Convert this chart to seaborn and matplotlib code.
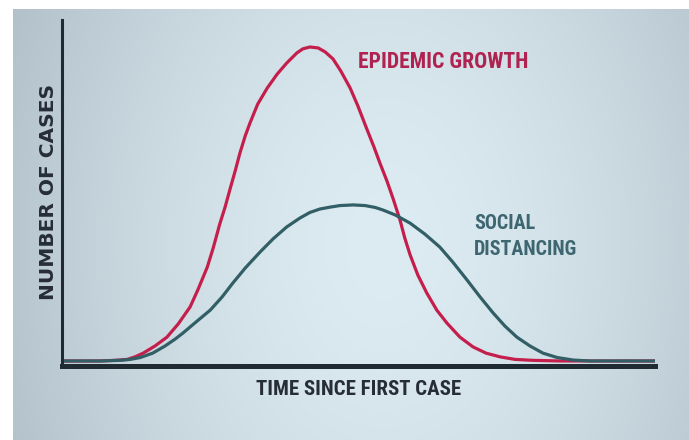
import numpy as np
import pandas as pd
import matplotlib
matplotlib.use("Agg")
import matplotlib.pyplot as plt
import seaborn as sns

# values (time since first case, number of cases)
epidemic_time = [0, 6.4, 8.9, 11.0, 12.3, 13.7, 15.7, 17.7, 19.6, 21.6,
                 22.9, 24.5, 25.5, 26.6, 27.5, 28.3, 29.2, 30.0, 30.9, 31.7,
                 33.0, 34.6, 36.3, 37.9, 39.6, 40.6, 41.8, 43.2, 44.4, 45.7,
                 47.0, 48.6, 49.9, 51.4, 52.6, 53.6, 54.8, 55.8, 57.0, 57.8,
                 58.7, 60.0, 61.5, 63.2, 64.9, 67.1, 69.3, 71.5, 73.9, 76.4,
                 79.4, 84.0, 100]
epidemic_cases = [0, 0, 0.2, 0.5, 1.3, 2.5, 4.8, 7.6, 11.8, 17.2,
                  22.6, 29.9, 36.0, 43.6, 49.0, 54.5, 60.5, 66.2, 71.7, 75.8,
                  81.8, 86.9, 91.4, 94.9, 98.1, 99.4, 100, 99.7, 98.4, 96.2,
                  92.4, 86.9, 81.2, 73.9, 68.2, 63.1, 57.3, 51.9, 44.9, 39.2,
                  33.8, 27.4, 21.7, 16.2, 12.1, 7.6, 4.5, 2.5, 1.3, 0.5,
                  0.2, 0, 0]

distancing_time = [0, 6.4, 9.8, 11.5, 13.2, 15.3, 17.4, 19.1, 20.4, 22.4,
                   25.0, 27.0, 28.8, 30.9, 33.4, 35.6, 37.9, 40.1, 41.8, 43.5,
                   45.2, 46.9, 49.1, 51.1, 52.8, 54.1, 56.2, 58.7, 61.2, 63.7,
                   65.9, 68.3, 70.5, 72.7, 74.7, 76.7, 78.9, 81.1, 83.5, 86.2,
                   89.0, 100]
distancing_cases = [0, 0, 0.2, 0.5, 1.1, 2.5, 4.8, 7.0, 8.9, 12.1,
                    16.2, 20.4, 24.8, 29.6, 34.7, 38.9, 42.7, 45.5, 47.3, 48.4,
                    49.0, 49.5, 49.7, 49.5, 48.9, 48.1, 46.5, 43.9, 40.4, 36.3,
                    31.5, 25.8, 20.4, 15.3, 11.1, 7.6, 4.8, 2.5, 1.1, 0.3,
                    0, 0]

W, H = 689, 440
RED = "#c41f4c"
TEAL = "#325e66"
DARK = "#202a33"

sns.set_theme(style="white")
plt.rcParams["font.family"] = ["Roboto Condensed", "Liberation Sans", "DejaVu Sans"]

fig = plt.figure(figsize=(W / 100, H / 100), dpi=100)
fig.patch.set_facecolor("white")

# gradient backdrop (white strip on left and top as in the screenshot)
bg = fig.add_axes([13 / W, 0, 1 - 13 / W, 1 - 9 / H], zorder=0)
yy, xx = np.mgrid[0:1:200j, 0:1:300j]
d = np.sqrt(((xx - 0.55) / 0.62) ** 2 + ((yy - 0.45) / 1.35) ** 2)
d = np.clip(d, 0, 1) ** 1.6
light = np.array([221, 236, 242]) / 255
dark = np.array([176, 191, 200]) / 255
img = light[None, None, :] * (1 - d[..., None]) + dark[None, None, :] * d[..., None]
bg.imshow(img, aspect="auto", extent=[0, 1, 0, 1], origin="lower")
bg.axis("off")


def fx(px):
    return px / W


def fy(py):
    return 1 - py / H


ax = fig.add_axes([fx(62), fy(366), fx(655) - fx(62), fy(20) - fy(366)], zorder=1)
ax.patch.set_alpha(0)

df_epi = pd.DataFrame({"time": epidemic_time, "cases": epidemic_cases})
df_dist = pd.DataFrame({"time": distancing_time, "cases": distancing_cases})

sns.lineplot(data=df_epi, x="time", y="cases", ax=ax, color=RED, lw=2.3,
             solid_joinstyle="round", solid_capstyle="round")
sns.lineplot(data=df_dist, x="time", y="cases", ax=ax, color=TEAL, lw=2.3,
             solid_joinstyle="round", solid_capstyle="round")

ax.set_xlim(0, 100)
ax.set_ylim(-1.6, 108.6)
ax.set_xticks([])
ax.set_yticks([])
ax.set_xlabel("")
ax.set_ylabel("")
for side in ["top", "right"]:
    ax.spines[side].set_visible(False)
ax.spines["left"].set_linewidth(2.2)
ax.spines["bottom"].set_linewidth(3.6)
ax.spines["left"].set_color(DARK)
ax.spines["bottom"].set_color(DARK)

fig.text(fx(358), fy(62.5), "EPIDEMIC GROWTH", color="#b02350", fontsize=15.6,
         fontweight="bold", ha="left", va="center")
fig.text(fx(474), fy(223.5), "SOCIAL", color="#3d6670", fontsize=14.4,
         fontweight="bold", ha="left", va="center")
fig.text(fx(474), fy(249.5), "DISTANCING", color="#3d6670", fontsize=14.4,
         fontweight="bold", ha="left", va="center")
fig.text(fx(359), fy(389.5), "TIME SINCE FIRST CASE", color="#262d36",
         fontsize=15, fontweight="bold", ha="center", va="center")
fig.text(fx(49), fy(191.5), "NUMBER OF CASES", color="#262d36", fontsize=14.5,
         fontweight="bold", ha="center", va="center", rotation=90,
         family="DejaVu Sans")

fig.savefig("out.png", dpi=100)
